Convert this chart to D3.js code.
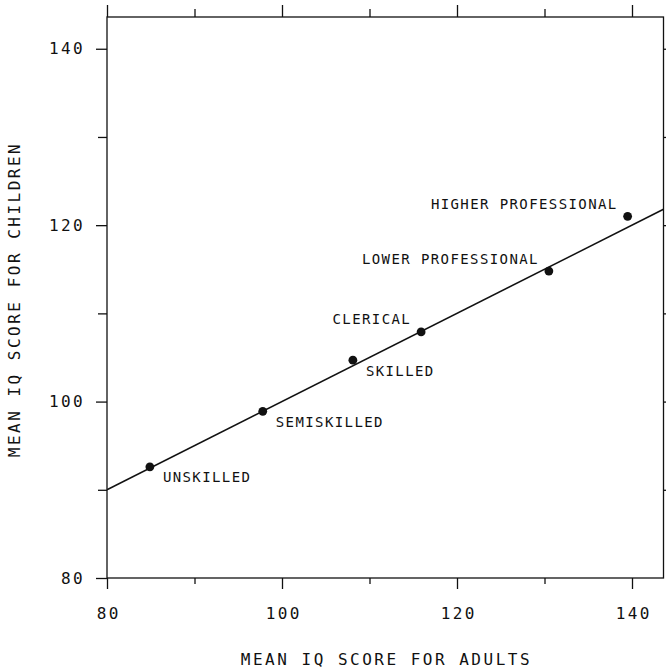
<!DOCTYPE html>
<html>
<head>
<meta charset="utf-8">
<script src="https://cdn.jsdelivr.net/npm/d3@7"></script>
<style>
	html, body { margin: 0; padding: 0; background: #fff; }
	svg { display: block; }
	text { font-family: "DejaVu Sans Mono", "Liberation Mono", monospace; fill: #111; }
</style>
</head>
<body>
<svg></svg>
<script>
// data
const groups = ['UNSKILLED', 'SEMISKILLED', 'SKILLED', 'CLERICAL', 'LOWER PROFESSIONAL', 'HIGHER PROFESSIONAL'];
const adultIQ = [84.9, 97.8, 108.1, 115.9, 130.5, 139.5];
const childIQ = [92.6, 98.9, 104.7, 107.9, 114.8, 121.0];
const fitX = [80, 143.6];
const fitY = [90.0, 121.8];
const majorTicks = [80, 100, 120, 140];
const minorTicks = [90, 110, 130];

const width = 666;
const height = 670;
const plotLeft = 107;
const plotRight = 663.5;
const plotTop = 17;
const plotBottom = 578;
const dotRadius = 4.4;
const tickFont = 16;
const ink = '#111';

// labels below-right of the dot for the lower groups, above-left for the others
const labelBelow = [true, true, true, false, false, false];

var svg = d3.select('svg').attr('width', width).attr('height', height);

var x = d3.scaleLinear().domain([80, 143.6]).range([plotLeft, plotRight]);
var y = d3.scaleLinear().domain([80, 143.6]).range([plotBottom, plotTop]);

function styleAxis(g){
	g.select('.domain').remove();
	g.selectAll('line').style('stroke', ink).style('stroke-width', 1.3);
	g.selectAll('text')
	.style('font-family', '"DejaVu Sans Mono", monospace')
	.style('font-size', tickFont + 'px')
	.style('letter-spacing', '2.4px')
	.style('fill', ink);
}

// bottom axis
svg.append('g').attr('transform', 'translate(0,' + plotBottom + ')')
.call(d3.axisBottom(x).tickValues(minorTicks).tickSize(6).tickFormat(''))
.call(styleAxis);
svg.append('g').attr('transform', 'translate(0,' + plotBottom + ')')
.call(d3.axisBottom(x).tickValues(majorTicks).tickSize(11).tickPadding(18.6).tickFormat(d3.format('d')))
.call(styleAxis)
.selectAll('text').attr('dx', '1.2px');

// left axis
svg.append('g').attr('transform', 'translate(' + plotLeft + ',0)')
.call(d3.axisLeft(y).tickValues(minorTicks).tickSize(9).tickFormat(''))
.call(styleAxis);
svg.append('g').attr('transform', 'translate(' + plotLeft + ',0)')
.call(d3.axisLeft(y).tickValues(majorTicks).tickSize(11).tickPadding(11).tickFormat(d3.format('d')))
.call(styleAxis);

// top axis, ticks only
svg.append('g').attr('transform', 'translate(0,' + plotTop + ')')
.call(d3.axisTop(x).tickValues(minorTicks).tickSize(8).tickFormat(''))
.call(styleAxis);
svg.append('g').attr('transform', 'translate(0,' + plotTop + ')')
.call(d3.axisTop(x).tickValues(majorTicks).tickSize(12).tickFormat(''))
.call(styleAxis);

// right axis, ticks only
svg.append('g').attr('transform', 'translate(' + plotRight + ',0)')
.call(d3.axisRight(y).tickValues(minorTicks.concat([100, 120, 140])).tickSize(10).tickFormat(''))
.call(styleAxis);

// frame
svg.append('rect')
.attr('x', plotLeft).attr('y', plotTop)
.attr('width', plotRight - plotLeft).attr('height', plotBottom - plotTop)
.style('fill', 'none').style('stroke', ink).style('stroke-width', 1.3);

// fitted line
svg.append('line')
.attr('x1', x(fitX[0])).attr('y1', y(fitY[0]))
.attr('x2', x(fitX[1])).attr('y2', y(fitY[1]))
.style('stroke', ink).style('stroke-width', 1.5);

var points = groups.map((g, i) => ({ name: g, ax: adultIQ[i], cy: childIQ[i], below: labelBelow[i] }));

svg.selectAll('circle.dot')
.data(points)
.enter().append('circle').classed('dot', true)
.attr('cx', d => x(d.ax)).attr('cy', d => y(d.cy))
.attr('r', dotRadius)
.style('fill', ink);

svg.selectAll('text.label')
.data(points)
.enter().append('text').classed('label', true)
.attr('x', d => x(d.ax) + (d.below ? 13 : -10))
.attr('y', d => y(d.cy) + (d.below ? 15.5 : -7.5))
.attr('text-anchor', d => d.below ? 'start' : 'end')
.style('font-size', '14px')
.style('letter-spacing', '1.4px')
.text(d => d.name);

// axis titles
svg.append('text')
.attr('x', (plotLeft + plotRight) / 2 + 1.2).attr('y', 665)
.attr('text-anchor', 'middle')
.style('font-size', '16px')
.style('letter-spacing', '2.5px')
.text('MEAN IQ SCORE FOR ADULTS');

svg.append('text')
.attr('transform', 'translate(19.5,' + ((plotTop + plotBottom) / 2 + 2) + ') rotate(-90)')
.attr('text-anchor', 'middle')
.style('font-size', '16px')
.style('letter-spacing', '2.5px')
.text('MEAN IQ SCORE FOR CHILDREN');
</script>
</body>
</html>
